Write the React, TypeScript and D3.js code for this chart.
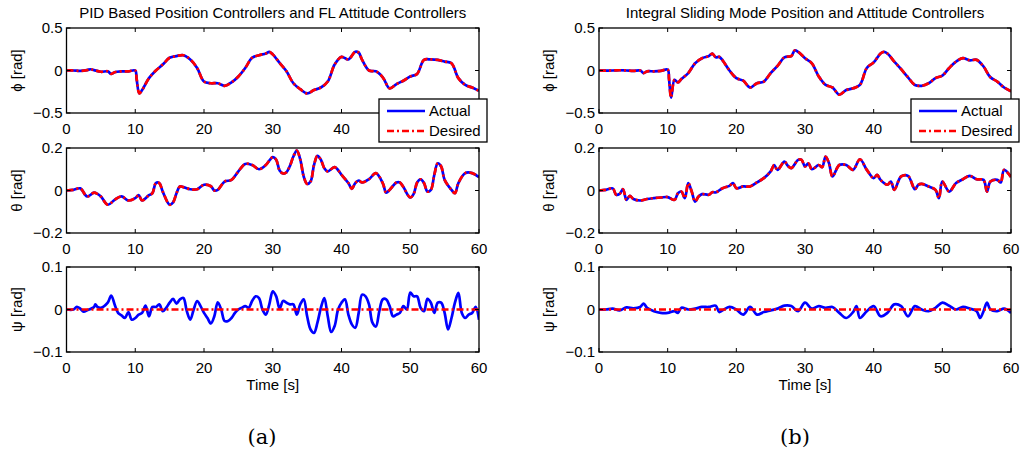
import * as d3 from "d3";

// time [s], angle [rad]
const phiPid: [number, number][] = [
  [0, 0], [1, 0], [2, -0.005], [3, 0.005], [3.5, 0.015], [4, 0.005], [5, -0.015], [6, -0.01], [6.5, -0.04],
  [7, -0.02], [8, -0.01], [9, -0.01], [10, 0], [10.2, -0.1], [10.6, -0.27], [11, -0.23], [12, -0.09], [13, 0],
  [14, 0.07], [15, 0.15], [16, 0.17], [17, 0.18], [18, 0.13], [19, 0.03], [20, -0.13], [21, -0.15], [22, -0.15],
  [23, -0.18], [24, -0.14], [25, -0.07], [26, 0.03], [27, 0.15], [28, 0.18], [29, 0.2], [29.5, 0.22], [30, 0.19],
  [31, 0.09], [32, -0.01], [33, -0.15], [34, -0.22], [35, -0.27], [36, -0.23], [37, -0.2], [38, -0.13], [39, 0.07],
  [40, 0.16], [41, 0.13], [42, 0.22], [42.5, 0.21], [43, 0.125], [44, 0], [45, -0.01], [46, -0.08], [47, -0.21],
  [48, -0.16], [49, -0.12], [50, -0.07], [51, -0.04], [52, 0.125], [53, 0.13], [54, 0.125], [55, 0.105], [56, 0.085],
  [57, -0.09], [58, -0.17], [59, -0.2], [60, -0.24],
];

const thetaPid: [number, number][] = [
  [0, 0], [1, 0.003], [2, 0.01], [3, -0.028], [4, -0.01], [4.5, -0.016], [5, -0.028], [6, -0.067], [7, -0.044],
  [8, -0.028], [9, -0.047], [10, -0.036], [10.5, -0.022], [11, -0.047], [12, -0.022], [12.5, -0.012], [13, 0.035],
  [13.5, 0.035], [14, -0.005], [15, -0.067], [15.5, -0.056], [16, -0.013], [16.5, 0.019], [17, 0.016], [18, 0.006],
  [19, 0.006], [20, 0.027], [21, 0.02], [21.5, 0], [22, 0.003], [23, 0.042], [24, 0.05], [25, 0.09], [26, 0.125],
  [27, 0.12], [28, 0.1], [29, 0.12], [30, 0.157], [30.5, 0.145], [31, 0.094], [31.5, 0.08], [32, 0.086],
  [32.5, 0.116], [33, 0.16], [33.5, 0.188], [34, 0.147], [34.5, 0.066], [35, 0.031], [35.5, 0.042], [36, 0.12],
  [36.5, 0.163], [37, 0.145], [37.5, 0.105], [38, 0.09], [39, 0.11], [40, 0.074], [41, 0.035], [41.5, 0.008],
  [42, 0.035], [42.5, 0.047], [43, 0.038], [44, 0.053], [45, 0.082], [46, 0.035], [46.5, -0.01], [47, 0.003],
  [48, 0.038], [48.5, 0.038], [49, 0.016], [50, -0.033], [50.5, -0.016], [51, 0.038], [51.5, 0.053], [52, 0.035],
  [52.5, -0.005], [53, 0.003], [53.5, 0.074], [54, 0.128], [54.5, 0.113], [55, 0.05], [56, 0.003], [56.5, -0.013],
  [57, 0.035], [58, 0.082], [59, 0.082], [60, 0.063],
];

const psiPid: [number, number][] = [
  [0, 0], [1, 0], [1.5, 0.006], [2, 0.002], [2.5, -0.005], [3, -0.002], [4, 0.006], [4.2, 0.012], [4.5, 0.006],
  [5, 0.004], [6, 0.016], [6.5, 0.033], [7, 0.012], [7.5, -0.008], [8, -0.014], [8.5, -0.02], [9, -0.006],
  [9.5, -0.024], [10, -0.02], [10.5, -0.012], [11, -0.008], [11.5, 0.009], [12, -0.016], [12.5, 0.006], [13, 0.006],
  [13.5, 0.012], [14, -0.004], [14.5, 0.004], [15, 0.016], [15.5, 0.025], [16, 0.014], [16.5, 0.024], [17, 0.027],
  [17.5, -0.004], [18, -0.024], [18.5, 0], [19, 0.02], [19.5, 0.008], [20, -0.008], [20.5, -0.02], [21, -0.033],
  [21.5, -0.016], [22, 0.017], [22.5, 0], [23, -0.027], [23.5, -0.027], [24, -0.02], [24.5, -0.008], [25, 0],
  [25.5, 0.004], [26, 0.008], [26.5, 0.004], [27, 0.02], [27.5, 0.031], [28, 0.027], [28.5, 0], [29, -0.012],
  [29.5, 0.012], [30, 0.043], [30.5, 0.031], [31, 0.002], [31.5, 0.02], [32, 0.016], [32.5, 0.012], [33, 0.012],
  [33.5, -0.012], [34, 0.012], [34.5, 0.024], [35, -0.016], [35.5, -0.047], [36, -0.055], [36.5, -0.031],
  [37, 0.004], [37.5, 0.027], [38, -0.016], [38.5, -0.053], [39, -0.039], [39.5, 0], [40, 0.016], [40.5, 0.024],
  [41, -0.012], [41.5, -0.035], [42, -0.043], [42.5, -0.008], [43, 0.035], [43.5, 0.031], [44, 0.012],
  [44.5, -0.031], [45, -0.04], [45.5, -0.004], [46, 0.024], [46.5, 0.024], [47, 0.008], [47.5, -0.016],
  [48, -0.012], [48.5, -0.008], [49, 0.008], [49.5, 0], [50, 0.04], [50.5, 0.031], [51, 0.031], [51.5, 0.004],
  [52, -0.004], [52.5, 0.025], [53, 0.016], [53.5, -0.008], [54, 0.016], [54.5, 0.016], [55, -0.008],
  [55.5, -0.047], [56, -0.02], [56.5, 0.016], [57, 0.039], [57.5, -0.008], [58, -0.02], [58.5, -0.012],
  [59, -0.008], [59.5, 0.006], [60, -0.024],
];

const phiIsm: [number, number][] = [
  [0, 0], [2, 0], [3, 0.003], [4, 0], [5, -0.005], [6, 0], [6.5, -0.03], [7, -0.01], [8, -0.01], [9, -0.005],
  [10, 0.01], [10.2, -0.1], [10.5, -0.32], [11, -0.11], [11.5, -0.14], [12, -0.1], [13, -0.03], [14, 0.085],
  [15, 0.145], [16, 0.17], [16.5, 0.2], [17, 0.155], [17.5, 0.16], [18, 0.12], [19, 0], [20, -0.09], [21, -0.12],
  [22, -0.2], [23, -0.15], [24, -0.13], [25, -0.03], [26, 0.055], [27, 0.155], [28, 0.17], [28.5, 0.235],
  [29, 0.22], [30, 0.145], [31, 0.085], [32, -0.07], [33, -0.17], [34, -0.2], [35, -0.285], [36, -0.23],
  [37, -0.21], [38, -0.17], [39, 0.03], [40, 0.095], [41, 0.2], [41.5, 0.22], [42, 0.2], [43, 0.105], [44, 0.015],
  [45, -0.08], [46, -0.17], [47, -0.18], [48, -0.15], [49, -0.09], [50, -0.06], [51, 0.03], [52, 0.105],
  [53, 0.145], [54, 0.12], [55, 0.125], [56, 0.047], [57, -0.08], [58, -0.13], [59, -0.2], [60, -0.245],
];

const thetaIsm: [number, number][] = [
  [0, 0], [1, 0.003], [2, 0.01], [2.5, -0.02], [3, -0.016], [3.5, 0.006], [4, -0.044], [4.5, -0.025], [5, -0.04],
  [6, -0.047], [7, -0.04], [8, -0.036], [9, -0.033], [10, -0.031], [11, -0.044], [11.5, -0.013], [12, -0.005],
  [12.5, -0.036], [13, 0.035], [13.5, -0.005], [14, -0.052], [14.5, -0.028], [15, -0.017], [16, -0.02],
  [16.5, -0.008], [17, -0.009], [18, 0.011], [19, 0.022], [19.5, 0.035], [20, 0.011], [21, 0.019], [22, 0.019],
  [23, 0.038], [24, 0.058], [25, 0.09], [25.5, 0.12], [26, 0.097], [27, 0.136], [27.5, 0.116], [28, 0.105],
  [29, 0.144], [29.5, 0.144], [30, 0.113], [30.5, 0.128], [31, 0.1], [32, 0.12], [32.5, 0.11], [33, 0.16],
  [33.5, 0.128], [34, 0.066], [35, 0.12], [36, 0.12], [37, 0.097], [38, 0.147], [39, 0.097], [40, 0.058],
  [40.5, 0.074], [41, 0.05], [42, 0.027], [42.5, 0.042], [43, 0.003], [44, 0.066], [45, 0.069], [46, 0.006],
  [46.5, 0.027], [47, 0.031], [48, 0.019], [49, 0.003], [49.5, -0.036], [50, 0.042], [51, -0.005], [52, 0.035],
  [53, 0.053], [54, 0.069], [55, 0.053], [56, 0.05], [56.5, -0.005], [57, 0.042], [58, 0.05], [58.5, 0.038],
  [59, 0.097], [60, 0.063],
];

const psiIsm: [number, number][] = [
  [0, 0], [1, 0], [2, 0.002], [3, -0.002], [4, 0.005], [5, 0.003], [6, 0.006], [6.5, 0.014], [7, 0.004],
  [8, -0.004], [9, -0.008], [10, -0.008], [11, -0.004], [11.5, -0.008], [12, 0.004], [13, 0], [14, 0.002],
  [15, 0.006], [16, 0.006], [17, 0.009], [17.5, -0.006], [18, -0.002], [19, 0.006], [20, 0], [21, -0.012],
  [22, 0.006], [23, -0.012], [24, -0.006], [25, -0.002], [26, 0.002], [27, 0.009], [28, 0.008], [29, -0.004],
  [30, 0.016], [31, 0.002], [32, 0.008], [33, 0.004], [34, 0.006], [35, -0.008], [36, -0.02], [37, -0.006],
  [37.5, 0.008], [38, -0.02], [39, -0.004], [40, 0.008], [41, -0.016], [42, -0.008], [43, 0.012], [44, 0.008],
  [45, -0.016], [46, 0.008], [47, 0], [48, -0.004], [49, 0.004], [50, 0.016], [51, 0.009], [52, 0], [53, 0.006],
  [54, 0.002], [55, -0.004], [55.5, -0.02], [56, -0.004], [56.5, 0.016], [57, 0], [58, -0.004], [59, 0.002],
  [60, -0.008],
];

const psiDesired: [number, number][] = [[0, 0], [60, 0]];

const xTicks = [0, 10, 20, 30, 40, 50, 60];
const titles = ["PID Based Position Controllers and FL Attitude Controllers", "Integral Sliding Mode Position and Attitude Controllers"];
const captions = ["(a)", "(b)"];
const yLabels = ["ϕ [rad]", "θ [rad]", "ψ [rad]"];
const yLimits = [0.5, 0.2, 0.1];

const fmt = (v: number) => (v < 0 ? "\u2212" + Math.abs(v) : String(v));

const cols = [
  { x0: 66.5, x1: 479, capX: 262, ylabX: 22, series: [[phiPid, phiPid], [thetaPid, thetaPid], [psiPid, psiDesired]] },
  { x0: 599, x1: 1011, capX: 795, ylabX: 554, series: [[phiIsm, phiIsm], [thetaIsm, thetaIsm], [psiIsm, psiDesired]] },
];
const rowTops = [28, 148, 267];
const rowH = 85;
const fs = 15;
const font = "'Liberation Sans', Arial, sans-serif";

export default function App() {
  return (
    <svg width={1024} height={456} style={{ position: "absolute", left: 0, top: 0, background: "#fff" }} fontFamily={font}>
      {cols.map((c, ci) => {
        const x = d3.scaleLinear().domain([0, 60]).range([c.x0, c.x1]);
        const cx = (c.x0 + c.x1) / 2;
        const legX = c.x1 - 100;
        return (
          <g key={ci}>
            <text x={cx} y={17.5} fontSize={fs} textAnchor="middle">{titles[ci]}</text>
            {rowTops.map((top, ri) => {
              const lim = yLimits[ri];
              const y = d3.scaleLinear().domain([-lim, lim]).range([top + rowH, top]);
              const line = d3.line<[number, number]>().x((d) => x(d[0])).y((d) => y(d[1])).curve(d3.curveCatmullRom.alpha(0.5));
              const [act, des] = c.series[ri];
              const clipId = `clip-${ci}-${ri}`;
              const yTicks = [-lim, 0, lim];
              // the legend box hides the top panel's last tick labels
              const shownX = ri === 0 ? xTicks.filter((t) => x(t) + 10 < legX) : xTicks;
              return (
                <g key={ri}>
                  <clipPath id={clipId}>
                    <rect x={c.x0} y={top} width={c.x1 - c.x0} height={rowH} />
                  </clipPath>
                  <g clipPath={`url(#${clipId})`}>
                    <path d={line(act) || ""} fill="none" stroke="#0000ff" strokeWidth={2.7} />
                    <path d={line(des) || ""} fill="none" stroke="#ff0000" strokeWidth={2.7} strokeDasharray="7,3,2,3" />
                  </g>
                  <rect x={c.x0} y={top} width={c.x1 - c.x0} height={rowH} fill="none" stroke="#000" strokeWidth={1.3} />
                  {xTicks.map((t) => (
                    <g key={t}>
                      <line x1={x(t)} x2={x(t)} y1={top + rowH} y2={top + rowH - 4} stroke="#000" />
                      <line x1={x(t)} x2={x(t)} y1={top} y2={top + 4} stroke="#000" />
                    </g>
                  ))}
                  {shownX.map((t) => (
                    <text key={t} x={x(t)} y={top + rowH + 21} fontSize={fs} textAnchor="middle">{t}</text>
                  ))}
                  {yTicks.map((v) => (
                    <g key={v}>
                      <line x1={c.x0} x2={c.x0 + 4} y1={y(v)} y2={y(v)} stroke="#000" />
                      <line x1={c.x1} x2={c.x1 - 4} y1={y(v)} y2={y(v)} stroke="#000" />
                      <text x={c.x0 - 4} y={y(v) + 5.4} fontSize={fs} textAnchor="end">{fmt(v)}</text>
                    </g>
                  ))}
                  <text transform={`translate(${c.ylabX},${top + rowH / 2}) rotate(-90)`} fontSize={fs} textAnchor="middle">{yLabels[ri]}</text>
                </g>
              );
            })}
            <text x={cx} y={390} fontSize={fs} textAnchor="middle">Time [s]</text>
            <text x={c.capX} y={444} fontSize={21} textAnchor="middle" fontFamily="'DejaVu Serif', 'Liberation Serif', serif">{captions[ci]}</text>
            {/* legend */}
            <g transform={`translate(${legX},99)`}>
              <rect x={0} y={0} width={108} height={43} fill="#fff" stroke="#000" strokeWidth={1.3} />
              <line x1={8} x2={46} y1={12} y2={12} stroke="#0000ff" strokeWidth={2.7} />
              <text x={50} y={17.4} fontSize={fs}>Actual</text>
              <line x1={8} x2={46} y1={32} y2={32} stroke="#ff0000" strokeWidth={2.7} strokeDasharray="7,3,2,3" />
              <text x={50} y={37.4} fontSize={fs}>Desired</text>
            </g>
          </g>
        );
      })}
    </svg>
  );
}
